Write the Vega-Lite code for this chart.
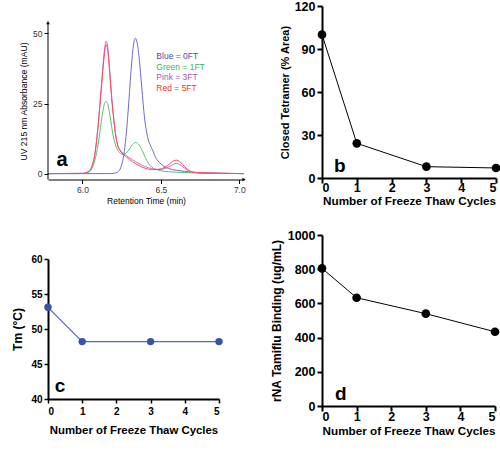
{
  "$schema": "https://vega.github.io/schema/vega-lite/v6.json",
  "padding": {"left": 11, "top": 0, "right": 0, "bottom": 0},
  "config": {
    "font": "Liberation Sans",
    "view": {"stroke": null},
    "axis": {"grid": false, "domainColor": "black", "tickColor": "black", "labelColor": "black", "titleColor": "black", "labelOverlap": false}
  },
  "datasets": {
    "chrom": [
      {"s":"Blue","t":5.78,"v":0},{"s":"Blue","t":6.0,"v":0},{"s":"Blue","t":6.18,"v":0},{"s":"Blue","t":6.2,"v":0.1},{"s":"Blue","t":6.22,"v":0.4},{"s":"Blue","t":6.24,"v":1.6},{"s":"Blue","t":6.25,"v":3.2},{"s":"Blue","t":6.26,"v":5.5},{"s":"Blue","t":6.27,"v":9.4},{"s":"Blue","t":6.28,"v":14.7},{"s":"Blue","t":6.29,"v":21.5},{"s":"Blue","t":6.3,"v":29.3},{"s":"Blue","t":6.31,"v":37},{"s":"Blue","t":6.32,"v":43.5},{"s":"Blue","t":6.33,"v":47.4},{"s":"Blue","t":6.337,"v":48.3},{"s":"Blue","t":6.35,"v":46.2},{"s":"Blue","t":6.36,"v":42},{"s":"Blue","t":6.37,"v":36},{"s":"Blue","t":6.38,"v":29.5},{"s":"Blue","t":6.39,"v":23},{"s":"Blue","t":6.4,"v":18},{"s":"Blue","t":6.41,"v":14.5},{"s":"Blue","t":6.42,"v":12},{"s":"Blue","t":6.43,"v":10.5},{"s":"Blue","t":6.44,"v":9.2},{"s":"Blue","t":6.45,"v":8},{"s":"Blue","t":6.46,"v":6.5},{"s":"Blue","t":6.48,"v":4.6},{"s":"Blue","t":6.5,"v":3.5},{"s":"Blue","t":6.52,"v":2.6},{"s":"Blue","t":6.55,"v":1.8},{"s":"Blue","t":6.6,"v":1.2},{"s":"Blue","t":6.65,"v":0.8},{"s":"Blue","t":6.7,"v":0.5},{"s":"Blue","t":6.8,"v":0.2},{"s":"Blue","t":6.9,"v":0.1},{"s":"Blue","t":7.03,"v":0},
      {"s":"Green","t":5.78,"v":0},{"s":"Green","t":6.0,"v":0},{"s":"Green","t":6.02,"v":0.1},{"s":"Green","t":6.04,"v":0.5},{"s":"Green","t":6.06,"v":1.8},{"s":"Green","t":6.08,"v":5},{"s":"Green","t":6.1,"v":10.5},{"s":"Green","t":6.12,"v":18.5},{"s":"Green","t":6.13,"v":22.3},{"s":"Green","t":6.14,"v":25},{"s":"Green","t":6.15,"v":25.8},{"s":"Green","t":6.16,"v":25},{"s":"Green","t":6.17,"v":22.5},{"s":"Green","t":6.18,"v":19},{"s":"Green","t":6.19,"v":15.3},{"s":"Green","t":6.2,"v":12.3},{"s":"Green","t":6.21,"v":10.2},{"s":"Green","t":6.22,"v":8.8},{"s":"Green","t":6.24,"v":7.3},{"s":"Green","t":6.26,"v":6.8},{"s":"Green","t":6.28,"v":7.4},{"s":"Green","t":6.3,"v":8.8},{"s":"Green","t":6.32,"v":10.4},{"s":"Green","t":6.34,"v":11.1},{"s":"Green","t":6.36,"v":10.3},{"s":"Green","t":6.38,"v":8.3},{"s":"Green","t":6.4,"v":5.8},{"s":"Green","t":6.42,"v":3.7},{"s":"Green","t":6.44,"v":2.4},{"s":"Green","t":6.46,"v":1.7},{"s":"Green","t":6.48,"v":1.3},{"s":"Green","t":6.5,"v":1},{"s":"Green","t":6.55,"v":0.7},{"s":"Green","t":6.6,"v":0.5},{"s":"Green","t":6.7,"v":0.3},{"s":"Green","t":6.8,"v":0.1},{"s":"Green","t":7.03,"v":0},
      {"s":"Pink","t":5.78,"v":0},{"s":"Pink","t":6.0,"v":0.1},{"s":"Pink","t":6.02,"v":0.3},{"s":"Pink","t":6.04,"v":0.8},{"s":"Pink","t":6.06,"v":2.6},{"s":"Pink","t":6.08,"v":7.5},{"s":"Pink","t":6.1,"v":17.5},{"s":"Pink","t":6.12,"v":31},{"s":"Pink","t":6.13,"v":38},{"s":"Pink","t":6.14,"v":44},{"s":"Pink","t":6.15,"v":47.3},{"s":"Pink","t":6.16,"v":45.5},{"s":"Pink","t":6.17,"v":39.5},{"s":"Pink","t":6.18,"v":32},{"s":"Pink","t":6.19,"v":25},{"s":"Pink","t":6.2,"v":19.5},{"s":"Pink","t":6.21,"v":14.5},{"s":"Pink","t":6.22,"v":11.3},{"s":"Pink","t":6.23,"v":9.4},{"s":"Pink","t":6.24,"v":8.4},{"s":"Pink","t":6.26,"v":7.3},{"s":"Pink","t":6.28,"v":6.4},{"s":"Pink","t":6.3,"v":5.6},{"s":"Pink","t":6.32,"v":4.9},{"s":"Pink","t":6.34,"v":4.2},{"s":"Pink","t":6.36,"v":3.6},{"s":"Pink","t":6.38,"v":3},{"s":"Pink","t":6.4,"v":2.5},{"s":"Pink","t":6.42,"v":2.1},{"s":"Pink","t":6.44,"v":1.8},{"s":"Pink","t":6.46,"v":1.6},{"s":"Pink","t":6.48,"v":1.5},{"s":"Pink","t":6.5,"v":1.5},{"s":"Pink","t":6.52,"v":1.7},{"s":"Pink","t":6.54,"v":2.1},{"s":"Pink","t":6.56,"v":2.7},{"s":"Pink","t":6.58,"v":3.3},{"s":"Pink","t":6.6,"v":3.6},{"s":"Pink","t":6.62,"v":3.2},{"s":"Pink","t":6.64,"v":2.4},{"s":"Pink","t":6.66,"v":1.5},{"s":"Pink","t":6.68,"v":0.9},{"s":"Pink","t":6.7,"v":0.5},{"s":"Pink","t":6.75,"v":0.3},{"s":"Pink","t":6.8,"v":0.2},{"s":"Pink","t":6.9,"v":0.1},{"s":"Pink","t":7.03,"v":0},
      {"s":"Red","t":5.78,"v":0},{"s":"Red","t":6.0,"v":0.1},{"s":"Red","t":6.02,"v":0.3},{"s":"Red","t":6.04,"v":0.8},{"s":"Red","t":6.06,"v":2.6},{"s":"Red","t":6.08,"v":7.4},{"s":"Red","t":6.1,"v":17.2},{"s":"Red","t":6.12,"v":30.3},{"s":"Red","t":6.13,"v":37},{"s":"Red","t":6.14,"v":42.8},{"s":"Red","t":6.15,"v":46},{"s":"Red","t":6.16,"v":44.3},{"s":"Red","t":6.17,"v":38.5},{"s":"Red","t":6.18,"v":31.2},{"s":"Red","t":6.19,"v":24.4},{"s":"Red","t":6.2,"v":19},{"s":"Red","t":6.21,"v":14.2},{"s":"Red","t":6.22,"v":11},{"s":"Red","t":6.23,"v":9.1},{"s":"Red","t":6.24,"v":8.1},{"s":"Red","t":6.26,"v":6.9},{"s":"Red","t":6.28,"v":5.9},{"s":"Red","t":6.3,"v":5},{"s":"Red","t":6.32,"v":4.2},{"s":"Red","t":6.34,"v":3.5},{"s":"Red","t":6.36,"v":2.9},{"s":"Red","t":6.38,"v":2.3},{"s":"Red","t":6.4,"v":1.9},{"s":"Red","t":6.42,"v":1.6},{"s":"Red","t":6.44,"v":1.4},{"s":"Red","t":6.46,"v":1.4},{"s":"Red","t":6.48,"v":1.5},{"s":"Red","t":6.5,"v":1.7},{"s":"Red","t":6.52,"v":2.1},{"s":"Red","t":6.54,"v":2.8},{"s":"Red","t":6.56,"v":3.7},{"s":"Red","t":6.58,"v":4.5},{"s":"Red","t":6.6,"v":4.8},{"s":"Red","t":6.62,"v":4.3},{"s":"Red","t":6.64,"v":3.2},{"s":"Red","t":6.66,"v":2},{"s":"Red","t":6.68,"v":1.1},{"s":"Red","t":6.7,"v":0.6},{"s":"Red","t":6.75,"v":0.3},{"s":"Red","t":6.8,"v":0.2},{"s":"Red","t":6.9,"v":0.1},{"s":"Red","t":7.03,"v":0}
    ],
    "legendA": [
      {"s":"Blue","label":"Blue = 0FT","t":6.471,"v":41.8},
      {"s":"Green","label":"Green = 1FT","t":6.471,"v":37.9},
      {"s":"Pink","label":"Pink = 3FT","t":6.471,"v":34.3},
      {"s":"Red","label":"Red = 5FT","t":6.471,"v":30.7}
    ],
    "axisA": [{"t":5.78,"v0":-2.1,"v1":53.9,"t1":7.03}],
    "tetramer": [{"cycles":0,"value":100},{"cycles":1,"value":24.2},{"cycles":3,"value":7.9},{"cycles":5,"value":7.0}],
    "tm": [{"cycles":0,"value":53.1},{"cycles":1,"value":48.2},{"cycles":3,"value":48.2},{"cycles":5,"value":48.2}],
    "binding": [{"cycles":0,"value":805},{"cycles":1,"value":633},{"cycles":3,"value":540},{"cycles":5,"value":434}]
  },
  "spacing": 24,
  "hconcat": [
    {
      "spacing": 49,
      "vconcat": [
        {
          "width": 196,
          "height": 173.5,
          "resolve": {"scale": {"color": "independent"}},
          "layer": [
            {
              "data": {"name": "chrom"},
              "mark": {"type": "line", "strokeWidth": 1, "interpolate": "monotone"},
              "encoding": {
                "x": {"field": "t", "type": "quantitative", "scale": {"domain": [5.78, 7.03], "nice": false, "zero": false},
                      "axis": {"values": [6.0, 6.5, 7.0], "tickCount": 20, "format": ".1f", "title": "Retention Time (min)", "labelFontSize": 8.5, "titleFontSize": 8.5, "titleFontWeight": "normal", "tickSize": 4, "labelPadding": 1.5, "titlePadding": 2.5, "domainWidth": 1, "labelColor": "#333"}},
                "y": {"field": "v", "type": "quantitative", "scale": {"domain": [-2.1, 59.8], "nice": false, "zero": false},
                      "axis": {"values": [0, 25, 50], "tickCount": 20, "format": "d", "title": "UV 215 nm Absorbance (mAU)", "titleY": 95, "labelFontSize": 8.5, "titleFontSize": 8.6, "titleFontWeight": "normal", "tickSize": 4, "labelPadding": 2, "titlePadding": 4, "domain": false, "labelColor": "#333"}},
                "color": {"field": "s", "type": "nominal", "scale": {"domain": ["Blue", "Green", "Pink", "Red"], "range": ["#6b6bcc", "#5cbf6e", "#cc6acc", "#ff4a5a"]}, "legend": null}
              }
            },
            {
              "data": {"name": "axisA"},
              "mark": {"type": "rule", "color": "black", "strokeWidth": 1},
              "encoding": {
                "x": {"field": "t", "type": "quantitative"},
                "y": {"field": "v0", "type": "quantitative"},
                "y2": {"field": "v1"}
              }
            },
            {
              "data": {"name": "axisA"},
              "mark": {"type": "point", "shape": "triangle-up", "filled": true, "color": "black", "opacity": 1, "size": 14},
              "encoding": {
                "x": {"field": "t", "type": "quantitative"},
                "y": {"field": "v1", "type": "quantitative"}
              }
            },
            {
              "data": {"name": "axisA"},
              "mark": {"type": "point", "shape": "triangle-right", "filled": true, "color": "black", "opacity": 1, "size": 14},
              "encoding": {
                "x": {"field": "t1", "type": "quantitative"},
                "y": {"field": "v0", "type": "quantitative"}
              }
            },
            {
              "data": {"name": "legendA"},
              "mark": {"type": "text", "align": "left", "baseline": "middle", "fontSize": 8.5},
              "encoding": {
                "x": {"field": "t", "type": "quantitative"},
                "y": {"field": "v", "type": "quantitative"},
                "text": {"field": "label"},
                "color": {"field": "s", "type": "nominal", "scale": {"domain": ["Blue", "Green", "Pink", "Red"], "range": ["#4a4aaa", "#3bb35a", "#b050b8", "#ff3030"]}, "legend": null}
              }
            },
            {
              "data": {"values": [{"lab": "a", "t": 5.834, "v": 5}]},
              "mark": {"type": "text", "align": "left", "baseline": "middle", "fontSize": 20, "fontWeight": "bold", "color": "black"},
              "encoding": {
                "x": {"field": "t", "type": "quantitative"},
                "y": {"field": "v", "type": "quantitative"},
                "text": {"field": "lab"}
              }
            }
          ]
        },
        {
          "width": 171,
          "height": 140,
          "layer": [
            {
              "data": {"name": "tm"},
              "mark": {"type": "line", "color": "#5068b8", "strokeWidth": 1.2},
              "encoding": {
                "x": {"field": "cycles", "type": "quantitative", "scale": {"domain": [0, 5], "nice": false},
                      "axis": {"values": [0, 1, 2, 3, 4, 5], "tickCount": 20, "format": "d", "title": "Number of Freeze Thaw Cycles", "labelFontSize": 10, "labelFontWeight": "bold", "titleFontSize": 11.4, "titleFontWeight": "bold", "tickSize": 4, "tickWidth": 1.5, "domainWidth": 2, "labelPadding": 3, "titlePadding": 8}},
                "y": {"field": "value", "type": "quantitative", "scale": {"domain": [40, 60], "nice": false, "zero": false},
                      "axis": {"values": [40, 45, 50, 55, 60], "tickCount": 20, "format": "d", "title": "Tm (°C)", "labelFontSize": 10, "labelFontWeight": "bold", "titleFontSize": 12, "titleFontWeight": "bold", "tickSize": 4, "tickWidth": 1.5, "domainWidth": 2, "labelPadding": 2, "titlePadding": 6}}
              }
            },
            {
              "data": {"name": "tm"},
              "mark": {"type": "point", "filled": true, "color": "#3a53a8", "opacity": 1, "size": 55},
              "encoding": {
                "x": {"field": "cycles", "type": "quantitative"},
                "y": {"field": "value", "type": "quantitative"}
              }
            },
            {
              "data": {"values": [{"lab": "c", "cycles": 0.2, "value": 41.9}]},
              "mark": {"type": "text", "align": "left", "baseline": "middle", "fontSize": 19, "fontWeight": "bold", "color": "black"},
              "encoding": {
                "x": {"field": "cycles", "type": "quantitative"},
                "y": {"field": "value", "type": "quantitative"},
                "text": {"field": "lab"}
              }
            }
          ]
        }
      ]
    },
    {
      "spacing": 21,
      "vconcat": [
        {
          "width": 174,
          "height": 172,
          "layer": [
            {
              "data": {"name": "tetramer"},
              "mark": {"type": "line", "color": "black", "strokeWidth": 1},
              "encoding": {
                "x": {"field": "cycles", "type": "quantitative", "scale": {"domain": [0, 5], "nice": false},
                      "axis": {"values": [0, 1, 2, 3, 4, 5], "tickCount": 20, "format": "d", "title": "Number of Freeze Thaw Cycles", "labelFontSize": 12.5, "labelFontWeight": "bold", "titleFontSize": 11.7, "titleFontWeight": "bold", "tickSize": 5, "tickWidth": 2, "domainWidth": 2, "labelPadding": -2, "titlePadding": 2}},
                "y": {"field": "value", "type": "quantitative", "scale": {"domain": [0, 120], "nice": false},
                      "axis": {"values": [0, 30, 60, 90, 120], "tickCount": 20, "format": "d", "title": "Closed Tetramer (% Area)", "labelFontSize": 12.5, "labelFontWeight": "bold", "titleFontSize": 11, "titleFontWeight": "bold", "tickSize": 5, "tickWidth": 2, "domainWidth": 2, "labelPadding": 2, "titlePadding": 4}}
              }
            },
            {
              "data": {"name": "tetramer"},
              "mark": {"type": "point", "filled": true, "color": "black", "opacity": 1, "size": 75},
              "encoding": {
                "x": {"field": "cycles", "type": "quantitative"},
                "y": {"field": "value", "type": "quantitative"}
              }
            },
            {
              "data": {"values": [{"lab": "b", "cycles": 0.345, "value": 8.4}]},
              "mark": {"type": "text", "align": "left", "baseline": "middle", "fontSize": 19, "fontWeight": "bold", "color": "black"},
              "encoding": {
                "x": {"field": "cycles", "type": "quantitative"},
                "y": {"field": "value", "type": "quantitative"},
                "text": {"field": "lab"}
              }
            }
          ]
        },
        {
          "width": 173,
          "height": 171,
          "layer": [
            {
              "data": {"name": "binding"},
              "mark": {"type": "line", "color": "black", "strokeWidth": 1},
              "encoding": {
                "x": {"field": "cycles", "type": "quantitative", "scale": {"domain": [0, 5], "nice": false},
                      "axis": {"values": [0, 1, 2, 3, 4, 5], "tickCount": 20, "format": "d", "title": "Number of Freeze Thaw Cycles", "labelFontSize": 12.5, "labelFontWeight": "bold", "titleFontSize": 11.7, "titleFontWeight": "bold", "tickSize": 5, "tickWidth": 2, "domainWidth": 2, "labelPadding": -1, "titlePadding": 3}},
                "y": {"field": "value", "type": "quantitative", "scale": {"domain": [0, 1000], "nice": false},
                      "axis": {"values": [0, 200, 400, 600, 800, 1000], "tickCount": 20, "format": "d", "title": "rNA Tamiflu Binding (ug/mL)", "labelFontSize": 12.5, "labelFontWeight": "bold", "titleFontSize": 12, "titleFontWeight": "bold", "tickSize": 5, "tickWidth": 2, "domainWidth": 2, "labelPadding": 2, "titlePadding": 4}}
              }
            },
            {
              "data": {"name": "binding"},
              "mark": {"type": "point", "filled": true, "color": "black", "opacity": 1, "size": 75},
              "encoding": {
                "x": {"field": "cycles", "type": "quantitative"},
                "y": {"field": "value", "type": "quantitative"}
              }
            },
            {
              "data": {"values": [{"lab": "d", "cycles": 0.375, "value": 70}]},
              "mark": {"type": "text", "align": "left", "baseline": "middle", "fontSize": 19, "fontWeight": "bold", "color": "black"},
              "encoding": {
                "x": {"field": "cycles", "type": "quantitative"},
                "y": {"field": "value", "type": "quantitative"},
                "text": {"field": "lab"}
              }
            }
          ]
        }
      ]
    }
  ]
}
